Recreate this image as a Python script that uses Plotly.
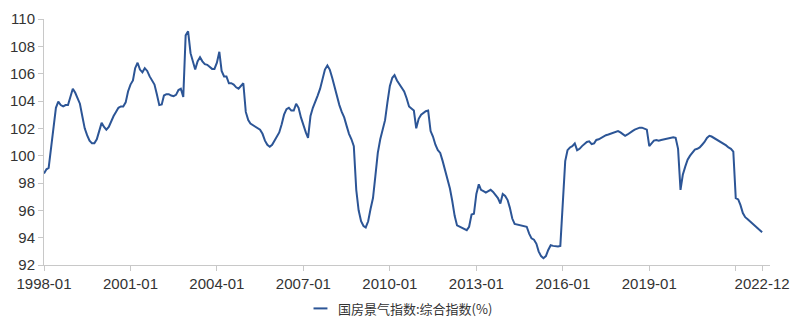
import pandas as pd
import plotly.graph_objects as go

v1998 = [98.7, 99.0, 99.1, 100.6, 102.4, 103.5, 103.95, 103.7, 103.6, 103.7, 103.7, 104.3]
v1999 = [104.9, 104.6, 104.2, 103.8, 102.9, 102.0, 101.5, 101.1, 100.9, 100.9, 101.2, 101.8]
v2000 = [102.4, 102.1, 101.9, 102.1, 102.55, 102.9, 103.2, 103.5, 103.6, 103.6, 103.9, 104.7]
v2001 = [105.2, 105.5, 106.4, 106.8, 106.3, 106.1, 106.4, 106.2, 105.8, 105.5, 105.2, 104.5]
v2002 = [103.7, 103.75, 104.4, 104.5, 104.5, 104.4, 104.35, 104.45, 104.8, 104.9, 104.3, 108.8]
v2003 = [109.1, 107.5, 106.9, 106.3, 106.9, 107.2, 106.9, 106.7, 106.65, 106.5, 106.35, 106.35]
v2004 = [106.8, 107.6, 106.2, 105.8, 105.8, 105.3, 105.3, 105.2, 105.0, 104.9, 105.1, 105.3]
v2005 = [103.2, 102.6, 102.35, 102.25, 102.15, 102.05, 101.9, 101.6, 101.1, 100.8, 100.65, 100.8]
v2006 = [101.1, 101.5, 101.7, 102.3, 103.0, 103.4, 103.5, 103.3, 103.3, 103.8, 103.5, 102.8]
v2007 = [102.2, 101.7, 101.3, 102.9, 103.5, 103.9, 104.4, 104.9, 105.7, 106.3, 106.6, 106.3]
v2008 = [105.7, 105.0, 104.4, 103.7, 103.2, 102.8, 102.2, 101.6, 101.2, 100.7, 97.5, 96.0]
v2009 = [95.2, 94.85, 94.75, 95.2, 96.1, 96.9, 98.5, 100.2, 101.2, 101.9, 102.6, 103.9]
v2010 = [105.1, 105.7, 105.9, 105.5, 105.2, 105.0, 104.7, 104.2, 103.6, 103.45, 103.3, 102.0]
v2011 = [102.7, 103.0, 103.15, 103.25, 103.3, 101.8, 101.4, 100.8, 100.4, 100.2, 99.6, 98.9]
v2012 = [98.4, 97.6, 96.7, 95.6, 94.9, 94.8, 94.75, 94.65, 94.55, 94.8, 95.7, 95.75]
v2013 = [97.2, 97.9, 97.5, 97.4, 97.3, 97.4, 97.5, 97.35, 97.1, 96.9, 96.5, 97.2]
v2014 = [97.05, 96.75, 96.2, 95.4, 95.0, 94.95, 94.9, 94.85, 94.8, 94.8, 94.3, 93.95]
v2015 = [93.85, 93.55, 93.0, 92.65, 92.5, 92.65, 93.1, 93.45, 93.4, 93.35, 93.35, 93.4]
v2016 = [96.5, 99.6, 100.4, 100.6, 100.7, 100.9, 100.4, 100.5, 100.7, 100.85, 101.0, 101.05]
v2017 = [100.85, 100.9, 101.15, 101.2, 101.3, 101.45, 101.5, 101.55, 101.6, 101.65, 101.75, 101.8]
v2018 = [101.7, 101.55, 101.45, 101.55, 101.7, 101.8, 101.9, 102.0, 102.05, 102.05, 101.95, 101.9]
v2019 = [100.7, 100.9, 101.1, 101.15, 101.1, 101.15, 101.2, 101.25, 101.3, 101.35, 101.35, 101.3]
v2020 = [100.5, 97.5, 98.6, 99.2, 99.7, 100.0, 100.25, 100.45, 100.5, 100.6, 100.8, 101.0]
v2021 = [101.3, 101.45, 101.4, 101.3, 101.2, 101.1, 101.0, 100.9, 100.75, 100.6, 100.5, 100.3]
v2022 = [96.9, 96.8, 96.4, 95.8, 95.5, 95.35, 95.2, 95.0, 94.85, 94.7, 94.55, 94.4]

values = (v1998 + v1999 + v2000 + v2001 + v2002 + v2003 + v2004 + v2005 + v2006
          + v2007 + v2008 + v2009 + v2010 + v2011 + v2012 + v2013 + v2014 + v2015
          + v2016 + v2017 + v2018 + v2019 + v2020 + v2021 + v2022)
dates = pd.date_range("1998-01-01", periods=len(values), freq="MS").strftime("%Y-%m-%d").tolist()

tick_dates = ["1998-01-01", "2001-01-01", "2004-01-01", "2007-01-01", "2010-01-01",
              "2013-01-01", "2016-01-01", "2019-01-01", "2022-01-01", "2022-12-01"]
tick_labels = ["1998-01", "2001-01", "2004-01", "2007-01", "2010-01",
               "2013-01", "2016-01", "2019-01", "", "2022-12"]
series_name = "国房景气指数:综合指数(%)"

line_color = "#2C5596"
axis_color = "#C8C8C8"
font_color = "#333333"

fig = go.Figure()
fig.add_trace(go.Scatter(x=dates, y=values, mode="lines", name=series_name,
                         line=dict(color=line_color, width=2), showlegend=False))

fig.update_layout(
    width=800, height=322,
    margin=dict(l=42, r=28, t=10, b=57),
    paper_bgcolor="white", plot_bgcolor="white",
    font=dict(family="Liberation Sans, Arial, sans-serif", size=15, color=font_color),
)
fig.update_xaxes(
    type="date", range=["1998-01-01", "2023-03-11"],
    tickmode="array", tickvals=tick_dates, ticktext=tick_labels,
    showgrid=False, zeroline=False, showline=True, linecolor=axis_color, linewidth=1,
    ticks="outside", ticklen=5, tickcolor=axis_color,
)
fig.update_yaxes(
    range=[92, 110], dtick=2, tick0=92,
    showgrid=False, zeroline=False, showline=True, linecolor=axis_color, linewidth=1,
    ticks="outside", ticklen=5, tickcolor=axis_color,
)

# legend drawn as a short line sample plus text, below the plot
fig.add_shape(type="line", xref="paper", yref="paper",
              x0=(313 - 42) / 730, x1=(327 - 42) / 730,
              y0=-(310 - 265) / 255, y1=-(310 - 265) / 255,
              line=dict(color=line_color, width=2))
fig.add_annotation(xref="paper", yref="paper", x=(336 - 42) / 730, y=-(310 - 265) / 255,
                   xanchor="left", yanchor="middle", showarrow=False, text=series_name,
                   font=dict(family="Noto Sans CJK SC", size=13, color=font_color))

fig.write_html("out.html")
